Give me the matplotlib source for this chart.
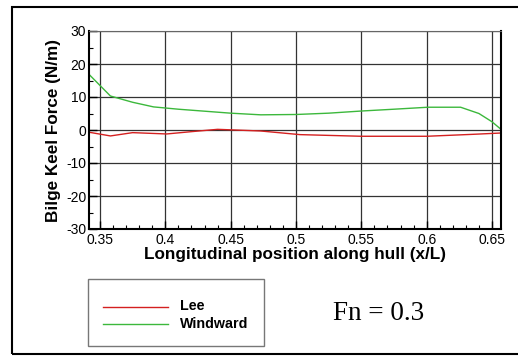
import matplotlib
matplotlib.use("Agg")
import matplotlib.pyplot as plt
from matplotlib.patches import Rectangle
from matplotlib.lines import Line2D
from matplotlib.ticker import MultipleLocator

plt.rcParams["font.family"] = ["Liberation Sans", "DejaVu Sans"]
plt.rcParams["axes.unicode_minus"] = False

# Windward (green) and Lee (red) bilge keel force along the hull
x_windward = [0.342, 0.358, 0.375, 0.391, 0.41, 0.43, 0.45, 0.473, 0.50, 0.525,
              0.55, 0.575, 0.601, 0.626, 0.640, 0.650, 0.6575]
y_windward = [16.7, 10.3, 8.4, 7.0, 6.3, 5.7, 5.1, 4.6, 4.7, 5.1,
              5.75, 6.3, 6.9, 6.9, 5.0, 2.5, 0.0]

x_lee = [0.342, 0.358, 0.375, 0.401, 0.42, 0.44, 0.473, 0.503, 0.55, 0.60,
         0.636, 0.6575]
y_lee = [-0.7, -1.8, -0.8, -1.2, -0.5, 0.2, -0.3, -1.4, -1.9, -1.9,
         -1.3, -0.9]

xticks = [0.35, 0.4, 0.45, 0.5, 0.55, 0.6, 0.65]
xtick_labels = ["0.35", "0.4", "0.45", "0.5", "0.55", "0.6", "0.65"]
yticks = [-30, -20, -10, 0, 10, 20, 30]

fig = plt.figure(figsize=(5.18, 3.56), dpi=100)
W, H = 518, 356

# outer frame
fig.patches.append(Rectangle((12 / W, 2 / H), 1.2, 347 / H, transform=fig.transFigure,
                             fill=False, edgecolor="black", linewidth=1.5))

ax = fig.add_axes([89 / W, 1 - 229 / H, 412 / W, 198 / H])
ax.plot(x_lee, y_lee, color="#d42020", linewidth=1.0, label="Lee")
ax.plot(x_windward, y_windward, color="#3cb83c", linewidth=1.0, label="Windward")

ax.set_xlim(0.3416, 0.6569)
ax.set_ylim(-30, 30)
ax.set_xticks(xticks)
ax.set_xticklabels(xtick_labels)
ax.set_yticks(yticks)
ax.xaxis.set_minor_locator(MultipleLocator(0.01))
ax.yaxis.set_minor_locator(MultipleLocator(5))
ax.tick_params(which="both", direction="in", top=False, right=False, labelsize=10)
ax.tick_params(axis="x", pad=3)
ax.tick_params(axis="y", pad=2)
ax.tick_params(which="major", length=6, width=1)
ax.tick_params(which="minor", length=3, width=0.8)
ax.grid(True, which="major", color="#333333", linewidth=0.9)
ax.set_axisbelow(True)
for s in ["left", "bottom", "right"]:
    ax.spines[s].set_linewidth(1.5)
ax.spines["top"].set_color("#666666")

ax.set_xlabel("Longitudinal position along hull (x/L)", fontsize=12.3, fontweight="bold", labelpad=0)
ax.set_ylabel("Bilge Keel Force (N/m)", fontsize=12.3, fontweight="bold")
ax.yaxis.set_label_coords((61 - 89) / 412, 0.5)

# legend box
fig.patches.append(Rectangle((88 / W, 1 - 346 / H), 176 / W, 67 / H, transform=fig.transFigure,
                             fill=False, edgecolor="#777777", linewidth=1.0))
legend_items = [("Lee", "#d42020", 306.5), ("Windward", "#3cb83c", 324)]
for name, color, ypix in legend_items:
    fig.lines.append(Line2D([103 / W, 168 / W], [1 - ypix / H, 1 - ypix / H],
                            transform=fig.transFigure, color=color, linewidth=1.0))
    fig.text(180 / W, 1 - ypix / H, name, fontsize=10.3, fontweight="bold", va="center", ha="left")

fig.text(379 / W, 1 - 313 / H, "Fn = 0.3", fontsize=19.5, family="Liberation Serif",
         va="center", ha="center")

fig.savefig("out.png", dpi=100)
